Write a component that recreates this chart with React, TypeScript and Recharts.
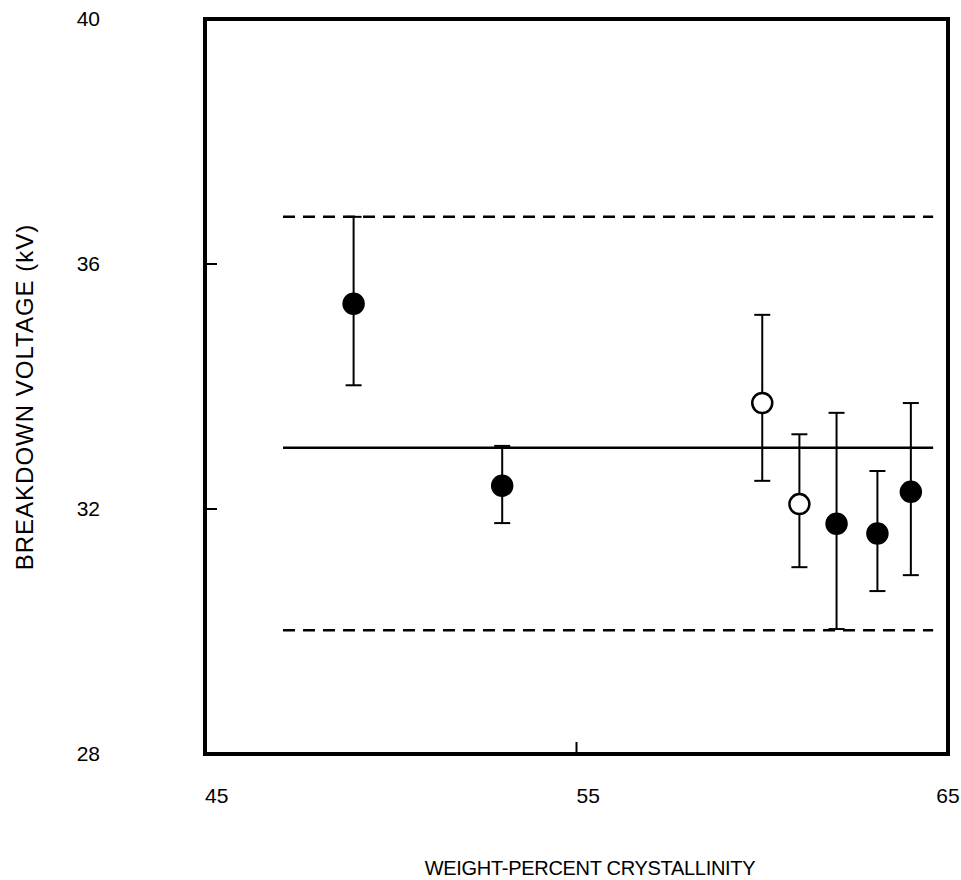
import { ComposedChart, Scatter, XAxis, YAxis, ErrorBar, ReferenceLine } from 'recharts'

// breakdown voltage vs crystallinity
const crystallinity = [49, 53, 60, 61, 62, 63.1, 64]
const voltage = [35.35, 32.38, 33.73, 32.08, 31.76, 31.6, 32.28]
const voltageHigh = [36.77, 33.03, 35.17, 33.22, 33.57, 32.62, 33.73]
const voltageLow = [34.02, 31.77, 32.46, 31.05, 30.04, 30.66, 30.92]
const isOpen = [false, false, true, true, false, false, false]

const xTicks = [45, 55, 65]
const yTicks = [28, 32, 36, 40]

const meanVoltage = 33.0
const upperLimit = 36.77
const lowerLimit = 30.02
const bandStart = 47.1
const bandEnd = 64.6

const FONT = '"Liberation Sans", Arial, sans-serif'

const rows = crystallinity.map((x, i) => ({
  x,
  y: voltage[i],
  err: [voltage[i] - voltageLow[i], voltageHigh[i] - voltage[i]],
  open: isOpen[i],
}))
const filledRows = rows.filter(r => !r.open)
const openRows = rows.filter(r => r.open)

const marker = (fill: string) =>
  // eslint-disable-next-line @typescript-eslint/no-explicit-any
  (props: any) => (
    <circle cx={props.cx} cy={props.cy} r={10} fill={fill} stroke="#000" strokeWidth={2.5} />
  )

// eslint-disable-next-line @typescript-eslint/no-explicit-any
function XTick({ x, y, payload }: any) {
  // last label sits centred on the corner, the others start at their tick
  const last = payload.value === xTicks[xTicks.length - 1]
  return (
    <text x={x} y={y} dy={15} textAnchor={last ? 'middle' : 'start'} fill="#000" fontSize={21} fontFamily={FONT}>
      {payload.value}
    </text>
  )
}

// eslint-disable-next-line @typescript-eslint/no-explicit-any
function YTick({ x, y, payload }: any) {
  return (
    <text x={x} y={y} dy={7} textAnchor="end" fill="#000" fontSize={21} fontFamily={FONT}>
      {payload.value}
    </text>
  )
}

const border = { stroke: '#000', strokeWidth: 4, strokeLinecap: 'square' as const }
const tickMark = { stroke: '#000', strokeWidth: 2 }

export default function App() {
  return (
    <div style={{ position: 'absolute', left: 0, top: 0, width: 961, height: 880, background: '#fff', fontFamily: FONT }}>
      <ComposedChart width={961} height={880} margin={{ top: 0, right: 0, bottom: 86, left: 85 }}>
        <XAxis
          type="number"
          dataKey="x"
          domain={[45, 65]}
          ticks={xTicks}
          interval={0}
          allowDataOverflow
          height={40}
          axisLine={border}
          tickLine={tickMark}
          tickSize={-12}
          tickMargin={46}
          tick={<XTick />}
        />
        <XAxis
          xAxisId="top"
          orientation="top"
          type="number"
          domain={[45, 65]}
          ticks={[55]}
          allowDataOverflow
          height={19}
          axisLine={border}
          tickLine={tickMark}
          tickSize={-12}
          tick={false}
        />
        <YAxis
          type="number"
          dataKey="y"
          domain={[28, 40]}
          ticks={yTicks}
          interval={0}
          allowDataOverflow
          width={120}
          axisLine={border}
          tickLine={tickMark}
          tickSize={-12}
          tickMargin={117}
          tick={<YTick />}
        />
        <YAxis
          yAxisId="right"
          orientation="right"
          type="number"
          domain={[28, 40]}
          ticks={[32, 36]}
          allowDataOverflow
          width={13}
          axisLine={border}
          tickLine={tickMark}
          tickSize={-12}
          tick={false}
        />
        <ReferenceLine
          segment={[{ x: bandStart, y: upperLimit }, { x: bandEnd, y: upperLimit }]}
          stroke="#000"
          strokeWidth={2.5}
          strokeDasharray="12 8"
        />
        <ReferenceLine
          segment={[{ x: bandStart, y: meanVoltage }, { x: bandEnd, y: meanVoltage }]}
          stroke="#000"
          strokeWidth={2.5}
        />
        <ReferenceLine
          segment={[{ x: bandStart, y: lowerLimit }, { x: bandEnd, y: lowerLimit }]}
          stroke="#000"
          strokeWidth={2.5}
          strokeDasharray="12 8"
        />
        <Scatter data={filledRows} shape={marker('#000')} isAnimationActive={false}>
          <ErrorBar dataKey="err" direction="y" width={8} stroke="#000" strokeWidth={2} isAnimationActive={false} />
        </Scatter>
        <Scatter data={openRows} shape={marker('#fff')} isAnimationActive={false}>
          <ErrorBar dataKey="err" direction="y" width={8} stroke="#000" strokeWidth={2} isAnimationActive={false} />
        </Scatter>
      </ComposedChart>
      <div
        style={{
          position: 'absolute',
          left: 290,
          top: 858,
          width: 600,
          textAlign: 'center',
          fontSize: 20,
          lineHeight: '20px',
          letterSpacing: -0.3,
          color: '#000',
          whiteSpace: 'nowrap',
        }}
      >
        WEIGHT-PERCENT CRYSTALLINITY
      </div>
      <div
        style={{
          position: 'absolute',
          left: -175,
          top: 382,
          width: 400,
          height: 30,
          textAlign: 'center',
          fontSize: 24,
          lineHeight: '30px',
          letterSpacing: 1,
          color: '#000',
          whiteSpace: 'nowrap',
          transform: 'rotate(-90deg)',
        }}
      >
        BREAKDOWN VOLTAGE (kV)
      </div>
    </div>
  )
}
